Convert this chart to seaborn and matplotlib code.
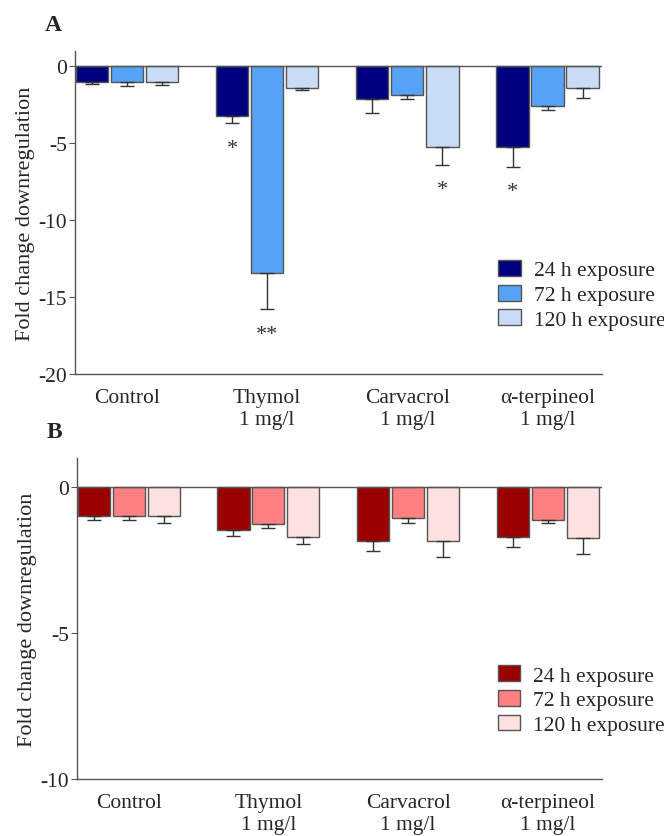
import numpy as np
import pandas as pd
import matplotlib
matplotlib.use("Agg")
import matplotlib.pyplot as plt
import seaborn as sns

# Datos
groups = ["Control", "Thymol\n1 mg/l", "Carvacrol\n1 mg/l", "α-terpineol\n1 mg/l"]
exposures = ["24 h exposure", "72 h exposure", "120 h exposure"]

# Panel A
a_24 = [-1.0, -3.2, -2.15, -5.25]
a_72 = [-1.0, -13.45, -1.85, -2.55]
a_120 = [-1.0, -1.4, -5.25, -1.4]
a_24_sem = [0.12, 0.5, 0.9, 1.3]
a_72_sem = [0.25, 2.35, 0.3, 0.3]
a_120_sem = [0.2, 0.15, 1.15, 0.65]
a_stars = [("Thymol\n1 mg/l", "24 h exposure", "*"),
           ("Thymol\n1 mg/l", "72 h exposure", "**"),
           ("Carvacrol\n1 mg/l", "120 h exposure", "*"),
           ("α-terpineol\n1 mg/l", "24 h exposure", "*")]

# Panel B
b_24 = [-1.0, -1.46, -1.84, -1.71]
b_72 = [-1.0, -1.27, -1.06, -1.14]
b_120 = [-1.0, -1.73, -1.84, -1.74]
b_24_sem = [0.12, 0.23, 0.37, 0.36]
b_72_sem = [0.12, 0.13, 0.19, 0.11]
b_120_sem = [0.23, 0.24, 0.56, 0.57]

blues = ["#00007f", "#55a2f7", "#c8dcf5"]
reds = ["#9b0000", "#ff8080", "#fde0e0"]

sns.set_style("ticks")
plt.rcParams["font.family"] = ["Liberation Serif", "DejaVu Serif"]

fig = plt.figure(figsize=(6.64, 8.37), dpi=100)
axA = fig.add_axes([0.113, 0.552, 0.794, 0.386])
axB = fig.add_axes([0.116, 0.068, 0.791, 0.384])


def make_df(v24, v72, v120, s24, s72, s120):
    rows = []
    for vals, sems, exp in [(v24, s24, exposures[0]), (v72, s72, exposures[1]), (v120, s120, exposures[2])]:
        for g, v, s in zip(groups, vals, sems):
            rows.append({"grupo": g, "exposicion": exp, "valor": v, "sem": s})
    return pd.DataFrame(rows)


def panel(ax, df, colors, ylim, yticks, letter, stars=None):
    sns.barplot(data=df, x="grupo", y="valor", hue="exposicion", order=groups,
                hue_order=exposures, palette=colors, saturation=1, errorbar=None,
                width=0.75, gap=0.08, edgecolor="#555555", linewidth=1.0, ax=ax)
    # barras de error solo hacia abajo
    pos = {}
    for i, exp in enumerate(exposures):
        cont = ax.containers[i]
        sub = df[df["exposicion"] == exp].set_index("grupo").loc[groups]
        for bar, (g, r) in zip(cont, sub.iterrows()):
            xc = bar.get_x() + bar.get_width() / 2
            pos[(g, exp)] = (xc, r["valor"] - r["sem"])
            ax.errorbar(xc, r["valor"], yerr=[[r["sem"]], [0]], fmt="none",
                        ecolor="#333333", elinewidth=1.0, capsize=5, capthick=1.0, zorder=1)
    if stars:
        for g, exp, s in stars:
            xc, tip = pos[(g, exp)]
            ax.text(xc, tip - 0.077 * (ylim[1] - ylim[0]), s, ha="center", va="center",
                    fontsize=16, color="#333333")
    ax.axhline(0, color="#555555", lw=1.0, zorder=3)
    ax.set_ylim(*ylim)
    ax.set_xlim(-0.37, 3.39)
    ax.set_yticks(yticks)
    ax.set_yticklabels([str(t) for t in yticks])
    ax.set_xlabel("")
    ax.set_ylabel("Fold change downregulation", fontsize=16, labelpad=2)
    ax.tick_params(axis="y", labelsize=15.5, length=4, color="#555555", pad=2)
    ax.tick_params(axis="x", labelsize=15.5, length=0, pad=10)
    for lab in ax.get_xticklabels():
        lab.set_linespacing(1.25)
    for sp in ["top", "right"]:
        ax.spines[sp].set_visible(False)
    for sp in ["left", "bottom"]:
        ax.spines[sp].set_color("#555555")
        ax.spines[sp].set_linewidth(1.0)
    ax.legend(loc="lower right", bbox_to_anchor=(1.148, 0.09), frameon=False,
              fontsize=15.5, handlelength=1.05, handleheight=0.75, labelspacing=0.2,
              handletextpad=0.6, borderpad=0.2)
    ax.text(-0.058, 1.05, letter, transform=ax.transAxes, fontsize=17,
            fontweight="bold", ha="left", va="bottom")


dfA = make_df(a_24, a_72, a_120, a_24_sem, a_72_sem, a_120_sem)
dfB = make_df(b_24, b_72, b_120, b_24_sem, b_72_sem, b_120_sem)

panel(axA, dfA, blues, (-20, 1), [0, -5, -10, -15, -20], "A", a_stars)
panel(axB, dfB, reds, (-10, 1), [0, -5, -10], "B")

fig.savefig("out.png", dpi=100)
